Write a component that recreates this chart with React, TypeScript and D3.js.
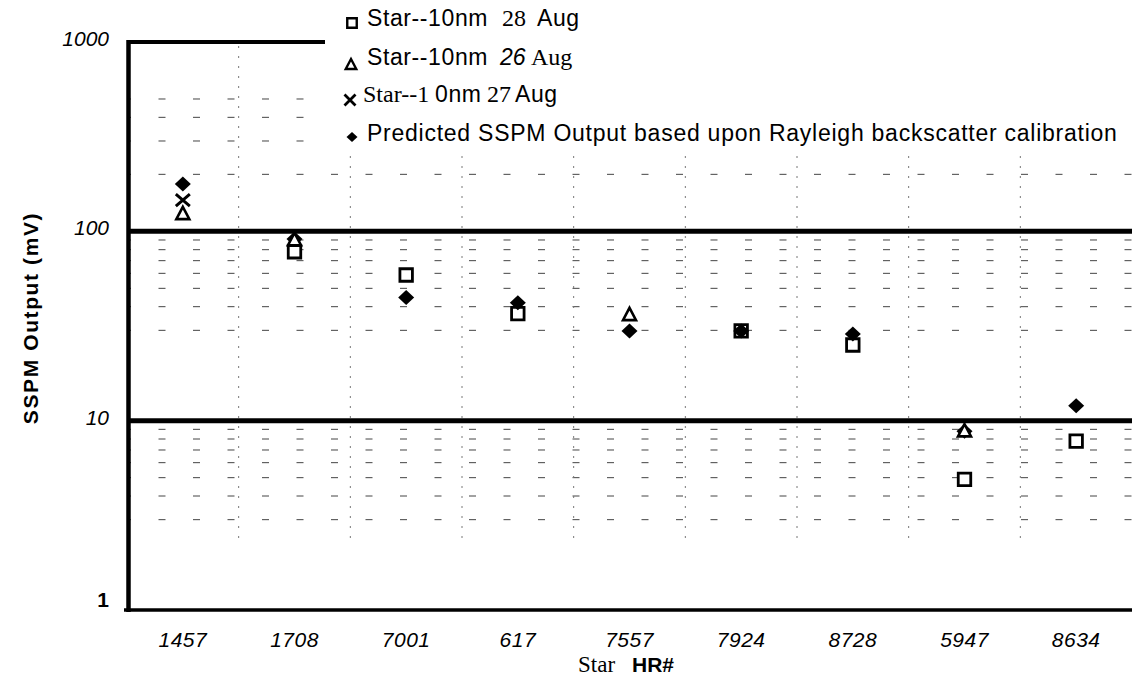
import React from "react";
import * as d3 from "d3";

// star catalogue numbers along the x axis
const stars = ["1457", "1708", "7001", "617", "7557", "7924", "8728", "5947", "8634"];

// measured SSPM output (mV), null = no observation
const aug28 = [null, 78, 58.8, 36.8, null, 29.8, 25.1, 4.9, 7.8];
const aug26 = [125, 91, null, null, 36.6, null, null, 8.9, null];
const aug27 = [146, null, null, null, null, null, null, null, null];
const predicted = [178, 91, 44.7, 42, 29.8, 29.8, 28.7, 8.8, 12.0];

// y axis
const yTicks = [1, 10, 100, 1000];
const yTickLabels = ["1", "10", "100", "1000"];
const minorRows = [200, 300, 400, 500, 30, 40, 50, 60, 70, 80, 90, 3, 4, 5, 6, 7, 8, 9];

const W = 1132;
const H = 679;
const SANS = "'Liberation Sans', Arial, sans-serif";
const SERIF = "'Liberation Serif', 'Times New Roman', serif";

const sq = (cx: number, cy: number, s: number) =>
  `M${cx - s / 2},${cy - s / 2}h${s}v${s}h${-s}Z`;
const tri = (cx: number, cy: number, s: number) => {
  const h = s * 0.95;
  return `M${cx},${cy - h / 2}L${cx + s / 2},${cy + h / 2}L${cx - s / 2},${cy + h / 2}Z`;
};
const dia = (cx: number, cy: number, w: number, h: number) =>
  `M${cx},${cy - h / 2}L${cx + w / 2},${cy}L${cx},${cy + h / 2}L${cx - w / 2},${cy}Z`;
const cross = (cx: number, cy: number, w: number, h: number) =>
  `M${cx - w / 2},${cy - h / 2}L${cx + w / 2},${cy + h / 2}M${cx + w / 2},${cy - h / 2}L${cx - w / 2},${cy + h / 2}`;

export default function App() {
  const x = d3.scaleBand<string>().domain(stars).range([127, 1132]).padding(0);
  const bw = x.bandwidth();
  const cx = (s: string) => (x(s) as number) + bw / 2;
  const y = d3.scaleLog().domain([1, 1000]).range([610, 42]);

  const axisLeft = 128.5;

  const pts = (arr: (number | null)[]) =>
    arr
      .map((v, i) => (v == null ? null : { x: cx(stars[i]), y: y(v) }))
      .filter((d) => d !== null) as { x: number; y: number }[];

  return (
    <svg
      width={W}
      height={H}
      style={{ position: "absolute", left: 0, top: 0, background: "#fff" }}
    >
      <rect width={W} height={H} fill="#fff" />

      {/* minor horizontal grid */}
      {minorRows.map((v) => (
        <line
          key={"h" + v}
          x1={axisLeft}
          x2={W}
          y1={y(v)}
          y2={y(v)}
          stroke="#444"
          strokeWidth={1}
          strokeDasharray="7 27.5"
          strokeDashoffset={-30}
        />
      ))}

      {/* vertical dotted separators between stars */}
      {stars.slice(1).map((s) => (
        <line
          key={"v" + s}
          x1={x(s)}
          x2={x(s)}
          y1={y(1000) + 4}
          y2={y(2.3)}
          stroke="#777"
          strokeWidth={1}
          strokeDasharray="2 8"
        />
      ))}

      {/* heavy decade lines */}
      {[10, 100].map((v) => (
        <line key={"d" + v} x1={axisLeft} x2={W} y1={y(v)} y2={y(v)} stroke="#000" strokeWidth={5} />
      ))}
      <line x1={axisLeft} x2={W} y1={y(1000)} y2={y(1000)} stroke="#000" strokeWidth={4} />

      {/* legend */}
      <rect x={325} y={0} width={W - 325} height={150} fill="#fff" />
      <g fill="#000">
        <path d={sq(352, 23, 9.5)} fill="#fff" stroke="#000" strokeWidth={2.4} />
        <path d={tri(351, 64, 10.5)} fill="#fff" stroke="#000" strokeWidth={2.4} />
        <path d={cross(350, 100, 11, 11)} fill="none" stroke="#000" strokeWidth={2.8} />
        <path d={dia(352, 137, 11, 10)} fill="#000" />

        <text y={26} fontSize={23} fontFamily={SANS} letterSpacing={0.6}>
          <tspan x={367}>Star--10nm</tspan>
          <tspan x={502} fontFamily={SERIF} fontSize={24} letterSpacing={0}>28</tspan>
          <tspan x={537}>Aug</tspan>
        </text>
        <text y={65} fontSize={23} fontFamily={SANS} letterSpacing={0.6}>
          <tspan x={367}>Star--10nm</tspan>
          <tspan x={500} fontStyle="italic" letterSpacing={0}>26</tspan>
          <tspan x={531} fontFamily={SERIF} fontSize={24} letterSpacing={0}>Aug</tspan>
        </text>
        <text y={102} fontSize={23} fontFamily={SANS} letterSpacing={0.6}>
          <tspan x={363} fontFamily={SERIF} fontSize={24} letterSpacing={0}>Star--1</tspan>
          <tspan x={435}>0nm</tspan>
          <tspan x={487} fontFamily={SERIF} fontSize={24} letterSpacing={0}>27</tspan>
          <tspan x={515}>Aug</tspan>
        </text>
        <text x={367} y={141} fontSize={23} fontFamily={SANS} letterSpacing={0.75}>
          Predicted SSPM Output based upon Rayleigh backscatter calibration
        </text>
      </g>

      {/* axes */}
      <line x1={axisLeft} x2={axisLeft} y1={y(1000) - 2} y2={y(1) + 2} stroke="#000" strokeWidth={4.5} />
      <line x1={124} x2={W} y1={y(1)} y2={y(1)} stroke="#000" strokeWidth={3.5} />

      {yTicks.map((v, i) => (
        <text
          key={"yt" + v}
          x={109}
          y={y(v) + (v === 1 ? -3 : 4)}
          textAnchor="end"
          fontSize={21}
          fontFamily={SANS}
          fontStyle={v === 1 ? "normal" : "italic"}
          fontWeight={v === 1 ? "bold" : "normal"}
        >
          {yTickLabels[i]}
        </text>
      ))}

      {stars.map((s) => (
        <text
          key={"xt" + s}
          x={cx(s)}
          y={647}
          textAnchor="middle"
          fontSize={21}
          fontFamily={SANS}
          fontStyle="italic"
          letterSpacing={0.5}
        >
          {s}
        </text>
      ))}

      <text y={672} fontSize={23}>
        <tspan x={578} fontFamily={SERIF}>Star</tspan>
        <tspan x={632} fontFamily={SANS} fontWeight="bold" fontSize={21}>HR#</tspan>
      </text>

      <text
        transform="translate(38,318) rotate(-90)"
        textAnchor="middle"
        fontSize={21}
        fontFamily={SANS}
        fontWeight="bold"
        letterSpacing={1.6}
      >
        SSPM Output (mV)
      </text>

      {/* data markers */}
      {pts(aug28).map((p, i) => (
        <path key={"s" + i} d={sq(p.x, p.y, 12.5)} fill="#fff" stroke="#000" strokeWidth={2.8} />
      ))}
      {pts(predicted).map((p, i) => (
        <path key={"p" + i} d={dia(p.x, p.y, 16, 15)} fill="#000" />
      ))}
      {pts(aug26).map((p, i) => (
        <path key={"t" + i} d={tri(p.x, p.y, 13)} fill="#fff" stroke="#000" strokeWidth={2.6} />
      ))}
      {pts(aug27).map((p, i) => (
        <path key={"x" + i} d={cross(p.x, p.y, 14, 12)} fill="none" stroke="#000" strokeWidth={3} />
      ))}
    </svg>
  );
}
